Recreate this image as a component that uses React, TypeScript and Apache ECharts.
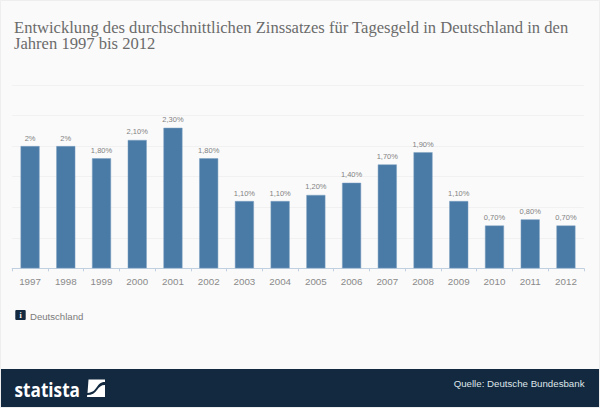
import React, { useEffect, useRef } from "react";
import * as echarts from "echarts";

const titleLines = [
  "Entwicklung des durchschnittlichen Zinssatzes für Tagesgeld in Deutschland in den",
  "Jahren 1997 bis 2012",
];
const years = ["1997","1998","1999","2000","2001","2002","2003","2004","2005","2006","2007","2008","2009","2010","2011","2012"];
const rates = [2, 2, 1.8, 2.1, 2.3, 1.8, 1.1, 1.1, 1.2, 1.4, 1.7, 1.9, 1.1, 0.7, 0.8, 0.7];
const rateLabels = ["2%","2%","1,80%","2,10%","2,30%","1,80%","1,10%","1,10%","1,20%","1,40%","1,70%","1,90%","1,10%","0,70%","0,80%","0,70%"];
const regionLabel = "Deutschland";
const sourceLabel = "Quelle: Deutsche Bundesbank";
const brandLabel = "statista";

const SANS = "'Liberation Sans', Arial, sans-serif";

echarts.graphic.registerShape(
  "statistaMark",
  echarts.graphic.extendPath(
    "M1.5 0H18V2.5C13 2.5 11.5 5 9.5 8C7.5 11 5.5 13 0.5 13.5L1.5 0Z M18 5.5V17.5H0L0.2 15.5C5 15.5 8 13.5 10 10.5C12 7.5 14 5.5 18 5.5Z",
    {}
  )
);

export default function App() {
  const ref = useRef<HTMLDivElement>(null);
  useEffect(() => {
    const chart = echarts.init(ref.current!, undefined, { renderer: "svg" });
    chart.setOption({
      animation: false,
      backgroundColor: "#fafafa",
      grid: { left: 12.2, right: 16.2, top: 85, height: 183.3, containLabel: false },
      xAxis: {
        type: "category",
        data: years,
        offset: 2,
        axisLine: { lineStyle: { color: "#c0d0e0", width: 1 } },
        axisTick: { show: true, length: 3, lineStyle: { color: "#c0d0e0" } },
        axisLabel: { color: "#8a8a8a", fontSize: 9.8, fontFamily: SANS, margin: 6 },
      },
      yAxis: {
        type: "value",
        min: 0,
        max: 3,
        interval: 0.5,
        axisLine: { show: false },
        axisTick: { show: false },
        axisLabel: { show: false },
        splitLine: { lineStyle: { color: "#f1f1f1", width: 1 } },
      },
      series: [
        {
          type: "bar",
          data: rates,
          barWidth: 19,
          itemStyle: { color: "#4a7aa6", borderColor: "#7fa2c2", borderWidth: 0.5 },
          label: {
            show: true,
            position: "top",
            distance: 4,
            color: "#828282",
            fontSize: 7.5,
            fontFamily: SANS,
            formatter: (p: any) => rateLabels[p.dataIndex],
          },
        },
      ],
      graphic: [
        { type: "rect", silent: true, shape: { x: 0.5, y: 0.5, width: 599, height: 407 }, style: { fill: "none", stroke: "#eeeeee", lineWidth: 1 } },
        { type: "text", x: 14, y: 20.5, scaleX: 1.05, style: { text: titleLines.join("\n"), fill: "#6b6b6b", font: "15.8px 'Liberation Serif', Georgia, serif", lineHeight: 15.9 } },
        { type: "rect", shape: { x: 15.3, y: 310, width: 10.4, height: 10, r: 1 }, style: { fill: "#12293f" } },
        { type: "text", x: 20.5, y: 315, style: { text: "i", fill: "#ffffff", font: "bold 8px 'Liberation Serif', serif", align: "center", verticalAlign: "middle" } },
        { type: "text", x: 30, y: 316.3, style: { text: regionLabel, fill: "#7a7a7a", font: `9.6px ${SANS}`, verticalAlign: "middle" } },
        { type: "rect", shape: { x: 1, y: 369, width: 598, height: 38 }, style: { fill: "#12293f" } },
        { type: "text", x: 14.5, y: 388.5, scaleX: 0.86, style: { text: brandLabel, fill: "#ffffff", font: "bold 20px 'Open Sans', sans-serif", verticalAlign: "middle" } },
        { type: "statistaMark", x: 87, y: 379.5, style: { fill: "#ffffff" } },
        { type: "text", x: 584.5, y: 383.7, style: { text: sourceLabel, fill: "#dfe5ea", font: `9.7px ${SANS}`, align: "right", verticalAlign: "middle" } },
      ],
    });
    return () => chart.dispose();
  }, []);
  return <div ref={ref} style={{ position: "absolute", left: 0, top: 0, width: 600, height: 408 }} />;
}
